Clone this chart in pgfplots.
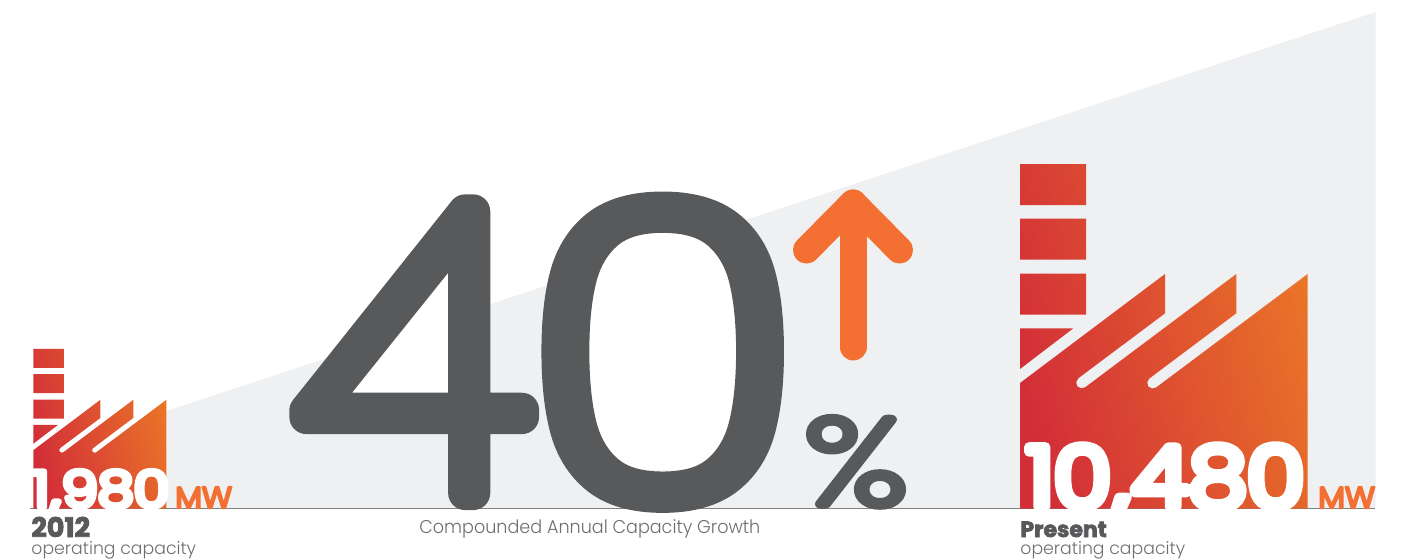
\documentclass[border=0pt]{standalone}
\usepackage{fontspec}
\usepackage{pgfplots}
\pgfplotsset{compat=1.18}
\setmainfont{Poppins Light}
% Stroked faces: a thin outline plus a round-joined stroke gives the soft numerals
\newfontfamily\hugefont[FakeBold=8.5]{Poppins Thin}
\newfontfamily\pctfont[FakeBold=8]{Poppins Thin}
\newfontfamily\heavyfont[FakeBold=11]{Poppins Light}
\newfontfamily\mediumfont[FakeBold=8]{Poppins Light}
\newfontfamily\captionfont[FakeBold=3]{Poppins Bold}
\newfontfamily\labelfont{Poppins Light}
\definecolor{slate}{HTML}{58595B}
\definecolor{labelgrey}{HTML}{6D6E71}
\definecolor{wedge}{HTML}{EFF0F2}
\definecolor{rule}{HTML}{808285}
\definecolor{accent}{HTML}{F47032}
\definecolor{factoryred}{HTML}{D22E38}
\definecolor{factoryorange}{HTML}{EA7428}
\newcommand{\soft}{\pgfsetroundjoin\pgfsetroundcap}

% Factory outlines, in picture pixels with y running downwards
\pgfplotstableread{
x y
33.3 348.9
63.8 348.9
63.8 367.9
33.3 367.9
nan nan
33.3 374.2
63.8 374.2
63.8 393.2
33.3 393.2
nan nan
33.3 399.6
63.8 399.6
63.8 418.6
33.3 418.6
nan nan
33.3 424.9
58.0 424.9
33.3 443.7
nan nan
33.3 450.2
100.4 399.8
100.4 417.9
60.3 448.0
59.3 449.7
59.8 451.7
61.5 452.6
63.4 452.2
133.3 399.8
133.3 417.9
93.1 448.1
92.1 449.8
92.6 451.8
94.3 452.7
96.2 452.3
166.4 399.8
166.4 508.5
33.3 508.5
33.3 450.2
}\smallfactory
\pgfplotstableread{
x y
1020 164
1086 164
1086 205
1020 205
nan nan
1020 218.7
1086 218.7
1086 259.7
1020 259.7
nan nan
1020 273.7
1086 273.7
1086 314.7
1020 314.7
nan nan
1020 328.3
1073.3 328.3
1020 369
nan nan
1020 383
1165 274
1165 313.3
1078.3 378.3
1076.2 382.0
1077.2 386.2
1080.9 388.3
1085.1 387.3
1236.3 274
1236.3 313.3
1149.3 378.5
1147.2 382.2
1148.2 386.4
1151.9 388.5
1156.1 387.5
1307.7 274
1307.7 508.5
1020 508.5
1020 383
}\bigfactory

\begin{document}
\begin{tikzpicture}
\begin{axis}[
  scale only axis, width=701pt, height=279.5pt,
  xmin=0, xmax=1402, ymin=0, ymax=559, y dir=reverse,
  hide axis, clip=false, unbounded coords=jump]

  % Full canvas, so that the picture keeps its size
  \path[use as bounding box] (axis cs:0,0) rectangle (axis cs:1402,559);

  % Background growth wedge
  \addplot[draw=none, fill=wedge] coordinates {(166.4,411) (1375.5,12) (1375.5,508) (166.4,508)} --cycle;
  % Baseline
  \addplot[rule, line width=0.65pt] coordinates {(30,508.5) (1375,508.5)};

  % Factories with one gradient across all their pieces
  \addplot[draw=none, left color=factoryred, right color=factoryorange, shading angle=105] table {\smallfactory};
  \addplot[draw=none, left color=factoryred, right color=factoryorange, shading angle=105] table {\bigfactory};

  % White counters of the big numerals
  \addplot[draw=none, fill=white] coordinates {(335,395) (450,395) (450,250)} --cycle;
  \fill[white, rounded corners=35pt] (axis cs:582,230) rectangle (axis cs:744,470);

  % Arrow
  \addplot[accent, line width=13.5pt, line cap=round, line join=round] coordinates {(853,347) (853,203)};
  \addplot[accent, line width=13.5pt, line cap=round, line join=round] coordinates {(806.5,250) (853,203) (899.5,250)};

  % Headline figure
  \node[anchor=base west, inner sep=0pt, text=slate] at (axis cs:298,493)
    {\soft\fontsize{200}{200}\hugefont 4\kern0.5pt\scalebox{1.137}[1]{0}};
  \node[anchor=base west, inner sep=0pt, text=slate] at (axis cs:805,504)
    {\soft\scalebox{1.3}[1]{\fontsize{60}{60}\pctfont\%}};

  % Capacity figures
  \node[anchor=base west, inner sep=0pt, text=white] at (axis cs:32,507)
    {\soft\scalebox{1.15}[1]{\fontsize{25}{25}\heavyfont 1\kern0.6pt,\kern0.6pt980}};
  \node[anchor=base west, inner sep=0pt, text=accent] at (axis cs:175,508)
    {\soft\scalebox{1.05}[1]{\fontsize{15}{15}\mediumfont MW}};
  \node[anchor=base west, inner sep=0pt, text=white] at (axis cs:1026,507)
    {\soft\scalebox{1.11}[1]{\fontsize{42}{42}\heavyfont 10\kern1pt,\kern1pt480}};
  \node[anchor=base west, inner sep=0pt, text=accent] at (axis cs:1318,508)
    {\soft\scalebox{1.05}[1]{\fontsize{15}{15}\mediumfont MW}};

  % Captions
  \node[anchor=base west, inner sep=0pt, text=slate] at (axis cs:31,537)
    {\fontsize{13.5}{13.5}\captionfont 2012};
  \node[anchor=base west, inner sep=0pt, text=labelgrey] at (axis cs:31,554)
    {\fontsize{8.65}{8.65}\labelfont operating capacity};
  \node[anchor=base west, inner sep=0pt, text=slate] at (axis cs:1020,537)
    {\fontsize{11}{11}\captionfont Present};
  \node[anchor=base west, inner sep=0pt, text=labelgrey] at (axis cs:1020,554)
    {\fontsize{8.65}{8.65}\labelfont operating capacity};
  \node[anchor=base west, inner sep=0pt, text=labelgrey] at (axis cs:419,533)
    {\scalebox{0.95}[1]{\fontsize{9.25}{9.25}\labelfont Compounded Annual Capacity Growth}};
\end{axis}
\end{tikzpicture}
\end{document}
